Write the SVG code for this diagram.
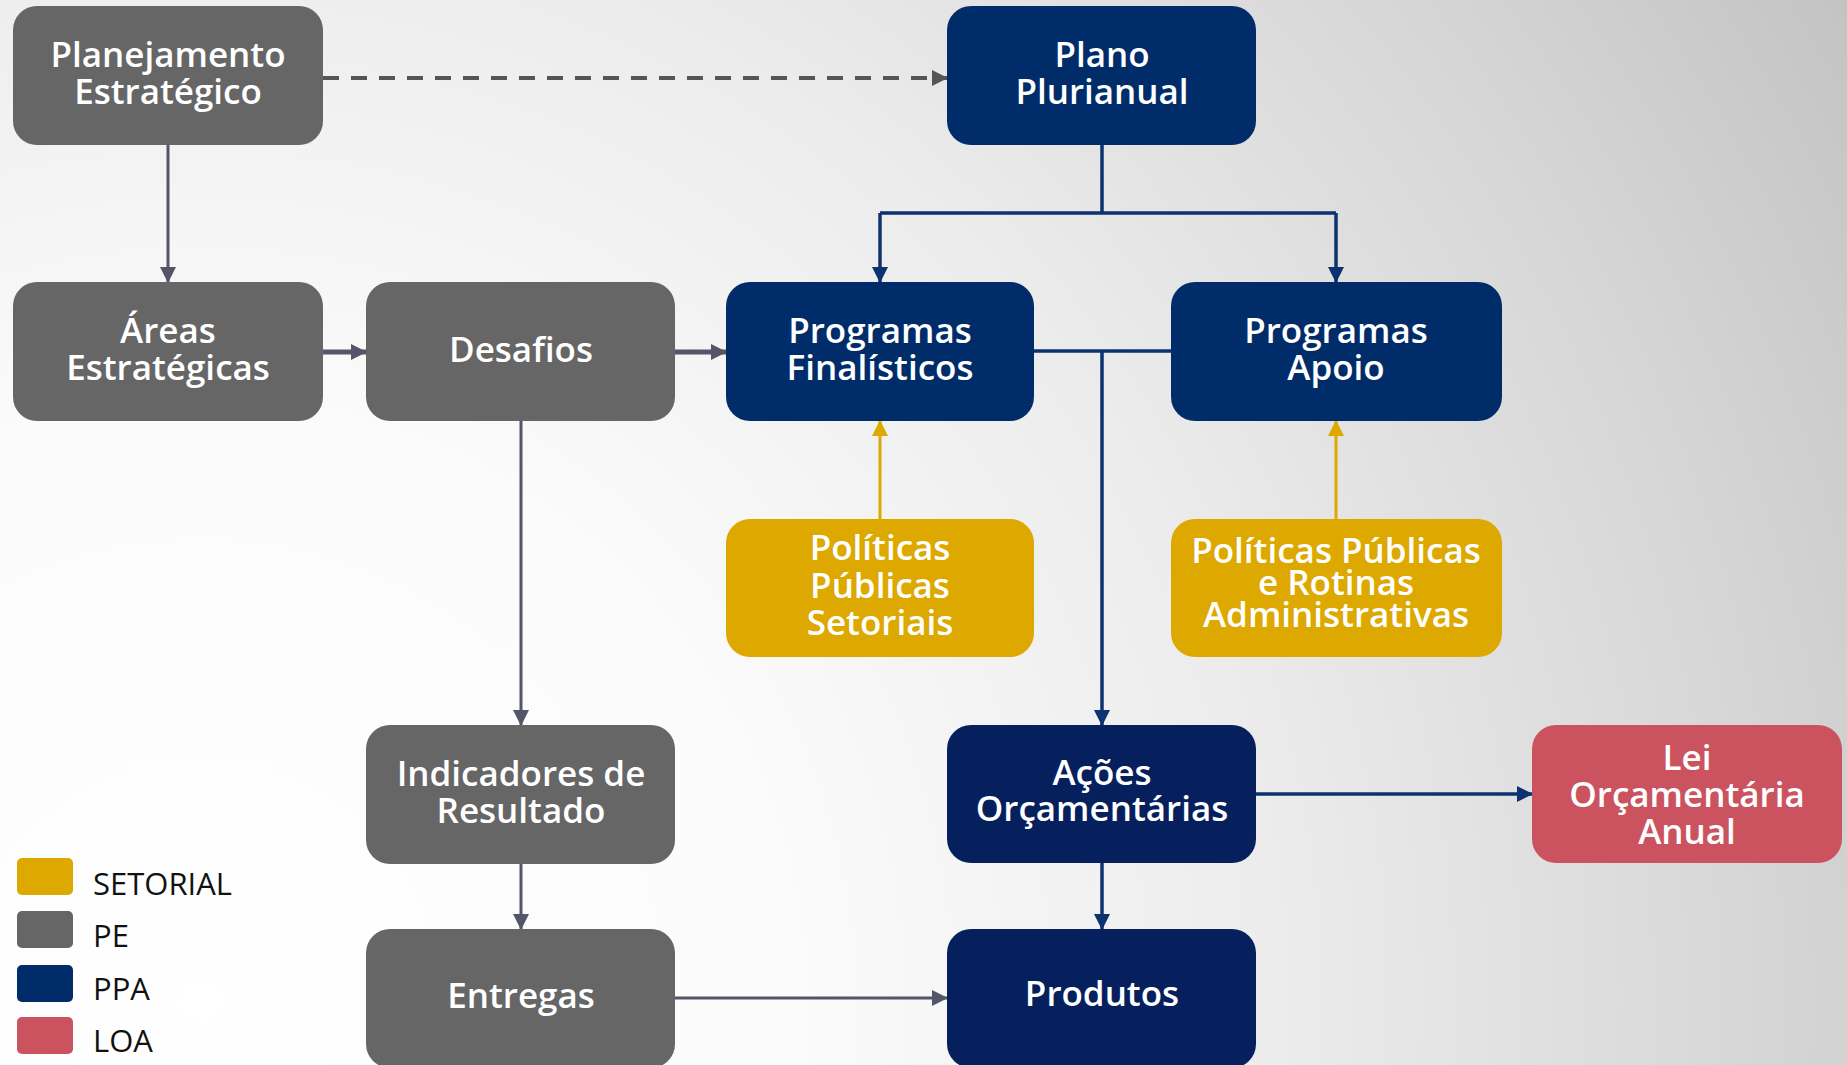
<svg xmlns="http://www.w3.org/2000/svg" width="1847" height="1065" viewBox="0 0 1847 1065">
  <defs>
    <radialGradient id="bg" gradientUnits="userSpaceOnUse" cx="200" cy="1000" r="1950">
      <stop offset="0" stop-color="#ffffff"/>
      <stop offset="0.3" stop-color="#fbfbfb"/>
      <stop offset="0.55" stop-color="#ececec"/>
      <stop offset="0.8" stop-color="#d6d6d6"/>
      <stop offset="1" stop-color="#c2c2c2"/>
    </radialGradient>
    <marker id="ad" viewBox="0 0 16 16" refX="15" refY="8" markerWidth="16" markerHeight="16" markerUnits="userSpaceOnUse" orient="auto">
      <path d="M0,0 L16,8 L0,16 z" fill="#555555"/>
    </marker>
    <marker id="ag" viewBox="0 0 16 16" refX="15" refY="8" markerWidth="16" markerHeight="16" markerUnits="userSpaceOnUse" orient="auto">
      <path d="M0,0 L16,8 L0,16 z" fill="#55556a"/>
    </marker>
    <marker id="an" viewBox="0 0 16 16" refX="15" refY="8" markerWidth="16" markerHeight="16" markerUnits="userSpaceOnUse" orient="auto">
      <path d="M0,0 L16,8 L0,16 z" fill="#0d3270"/>
    </marker>
    <marker id="ay" viewBox="0 0 16 16" refX="15" refY="8" markerWidth="16" markerHeight="16" markerUnits="userSpaceOnUse" orient="auto">
      <path d="M0,0 L16,8 L0,16 z" fill="#dda800"/>
    </marker>
  </defs>
  <style>
    .pe { fill: #666666; }
    .ppa { fill: #002d6a; }
    .ppa2 { fill: #06205e; }
    .set { fill: #dda800; }
    .loa { fill: #cb5360; }
    .t { font-family: "Open Sans", "Liberation Sans", sans-serif; font-weight: 600; font-size: 35px; fill: #ffffff; text-anchor: middle; }
    .lg { font-family: "Open Sans", "Liberation Sans", sans-serif; font-weight: 400; font-size: 31px; fill: #111111; }
    .cg { fill: none; stroke: #55556a; stroke-width: 3; }
    .cgt { fill: none; stroke: #55556a; stroke-width: 5; }
    .cd { fill: none; stroke: #555555; stroke-width: 4; stroke-dasharray: 16 12; }
    .cn { fill: none; stroke: #0d3270; stroke-width: 3.5; }
    .cy { fill: none; stroke: #dda800; stroke-width: 3; }
  </style>

  <rect x="0" y="0" width="1847" height="1065" fill="url(#bg)"/>

  <g id="connectors">
    <path class="cd" d="M323,78 H947" marker-end="url(#ad)"/>
    <path class="cg" d="M168,145 V282" marker-end="url(#ag)"/>
    <path class="cgt" d="M323,352 H366" marker-end="url(#ag)"/>
    <path class="cgt" d="M675,352 H726" marker-end="url(#ag)"/>
    <path class="cg" d="M521,421 V725" marker-end="url(#ag)"/>
    <path class="cg" d="M521,864 V929" marker-end="url(#ag)"/>
    <path class="cg" d="M675,998 H947" marker-end="url(#ag)"/>
    <path class="cn" d="M1102,145 V213 M880,213 H1336"/>
    <path class="cn" d="M880,213 V282" marker-end="url(#an)"/>
    <path class="cn" d="M1336,213 V282" marker-end="url(#an)"/>
    <path class="cn" d="M1034,351 H1171"/>
    <path class="cn" d="M1102,351 V725" marker-end="url(#an)"/>
    <path class="cn" d="M1256,794 H1532" marker-end="url(#an)"/>
    <path class="cn" d="M1102,863 V929" marker-end="url(#an)"/>
    <path class="cy" d="M880,519 V421" marker-end="url(#ay)"/>
    <path class="cy" d="M1336,519 V421" marker-end="url(#ay)"/>
  </g>

  <g id="planejamento">
    <rect class="pe" x="13" y="6" width="310" height="139" rx="24"/>
    <text class="t" x="168" y="67">Planejamento</text>
    <text class="t" x="168" y="104">Estratégico</text>
  </g>
  <g id="plano">
    <rect class="ppa" x="947" y="6" width="309" height="139" rx="24"/>
    <text class="t" x="1102" y="67">Plano</text>
    <text class="t" x="1102" y="104">Plurianual</text>
  </g>
  <g id="areas">
    <rect class="pe" x="13" y="282" width="310" height="139" rx="24"/>
    <text class="t" x="168" y="343">Áreas</text>
    <text class="t" x="168" y="380">Estratégicas</text>
  </g>
  <g id="desafios">
    <rect class="pe" x="366" y="282" width="309" height="139" rx="24"/>
    <text class="t" x="521" y="362">Desafios</text>
  </g>
  <g id="prog-finalisticos">
    <rect class="ppa" x="726" y="282" width="308" height="139" rx="24"/>
    <text class="t" x="880" y="343">Programas</text>
    <text class="t" x="880" y="380">Finalísticos</text>
  </g>
  <g id="prog-apoio">
    <rect class="ppa" x="1171" y="282" width="331" height="139" rx="24"/>
    <text class="t" x="1336" y="343">Programas</text>
    <text class="t" x="1336" y="380">Apoio</text>
  </g>
  <g id="pol-setoriais">
    <rect class="set" x="726" y="519" width="308" height="138" rx="24"/>
    <text class="t" x="880" y="560">Políticas</text>
    <text class="t" x="880" y="598">Públicas</text>
    <text class="t" x="880" y="635">Setoriais</text>
  </g>
  <g id="pol-rotinas">
    <rect class="set" x="1171" y="519" width="331" height="138" rx="24"/>
    <text class="t" x="1336" y="563">Políticas Públicas</text>
    <text class="t" x="1336" y="595">e Rotinas</text>
    <text class="t" x="1336" y="627">Administrativas</text>
  </g>
  <g id="indicadores">
    <rect class="pe" x="366" y="725" width="309" height="139" rx="24"/>
    <text class="t" x="521" y="786">Indicadores de</text>
    <text class="t" x="521" y="823">Resultado</text>
  </g>
  <g id="acoes">
    <rect class="ppa2" x="947" y="725" width="309" height="138" rx="24"/>
    <text class="t" x="1102" y="785">Ações</text>
    <text class="t" x="1102" y="821">Orçamentárias</text>
  </g>
  <g id="loa">
    <rect class="loa" x="1532" y="725" width="310" height="138" rx="24"/>
    <text class="t" x="1687" y="770">Lei</text>
    <text class="t" x="1687" y="807">Orçamentária</text>
    <text class="t" x="1687" y="844">Anual</text>
  </g>
  <g id="entregas">
    <rect class="pe" x="366" y="929" width="309" height="139" rx="24"/>
    <text class="t" x="521" y="1008">Entregas</text>
  </g>
  <g id="produtos">
    <rect class="ppa2" x="947" y="929" width="309" height="139" rx="24"/>
    <text class="t" x="1102" y="1006">Produtos</text>
  </g>

  <g id="legend">
    <rect class="set" x="17" y="858" width="56" height="37" rx="5"/>
    <text class="lg" x="93" y="895">SETORIAL</text>
    <rect class="pe" x="17" y="911" width="56" height="37" rx="5"/>
    <text class="lg" x="93" y="947">PE</text>
    <rect class="ppa" x="17" y="965" width="56" height="37" rx="5"/>
    <text class="lg" x="93" y="1000">PPA</text>
    <rect class="loa" x="17" y="1017" width="56" height="37" rx="5"/>
    <text class="lg" x="93" y="1052">LOA</text>
  </g>
</svg>
